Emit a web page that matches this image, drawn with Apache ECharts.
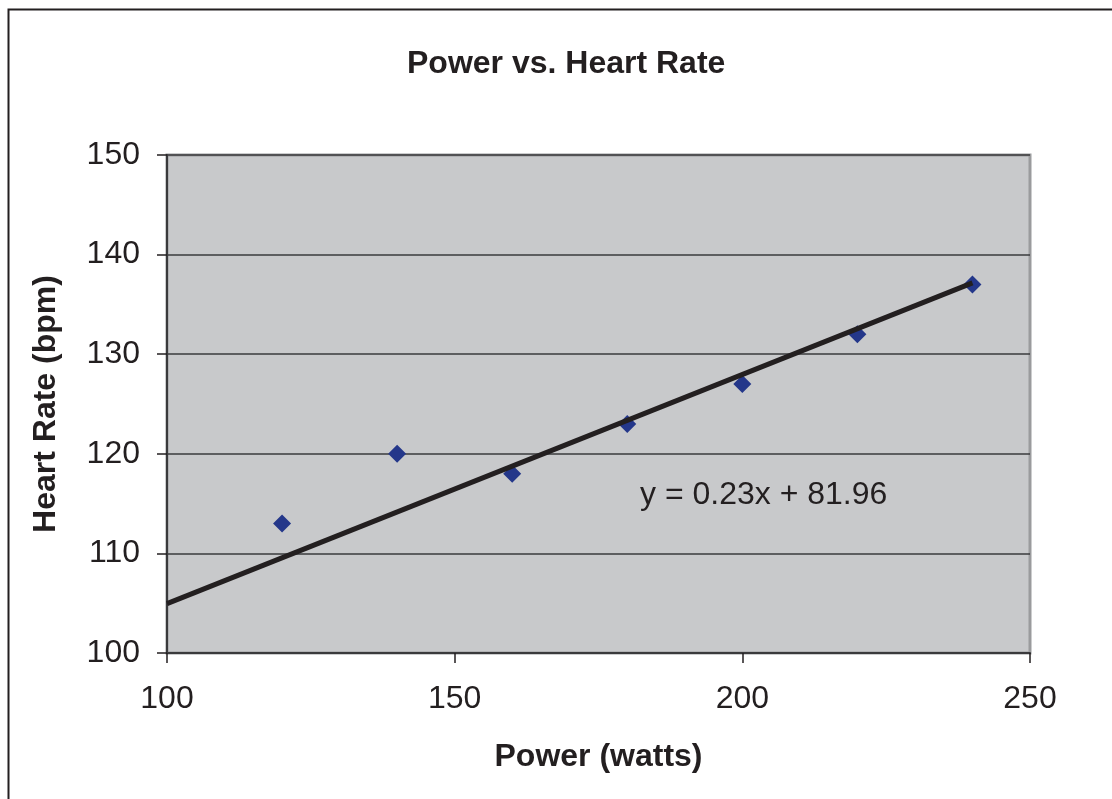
<!DOCTYPE html>
<html><head><meta charset="utf-8">
<script src="https://cdn.jsdelivr.net/npm/echarts@6/dist/echarts.min.js"></script>
<style>html,body{margin:0;padding:0;background:#fff}#c{width:1112px;height:799px}</style>
</head><body><div id="c"></div>
<script>
var powerWatts = [120, 140, 160, 180, 200, 220, 240];
var heartRate = [113, 120, 118, 123, 127, 132, 137];
var trendSlope = 0.23;
var trendIntercept = 81.96;
var trendRange = [100, 240];
var xTicks = [100, 150, 200, 250];
var yTicks = [100, 110, 120, 130, 140, 150];

var points = powerWatts.map(function(x, i){ return [x, heartRate[i]]; });
var trend = trendRange.map(function(x){ return [x, trendSlope * x + trendIntercept]; });
var F = 'Liberation Sans, Arial, sans-serif';

var chart = echarts.init(document.getElementById('c'));
chart.setOption({
  animation: false,
  title: { text: 'Power vs. Heart Rate', left: 407, top: 48, padding: 0,
    textStyle: { fontFamily: F, fontSize: 32, fontWeight: 'bold', color: '#231f20' } },
  graphic: [
    { type: 'rect', left: 6, top: 7, shape: { width: 1200, height: 900 }, z: -10,
      style: { fill: 'none', stroke: '#231f20', lineWidth: 2 } },
    { type: 'text', left: 640, top: 479, z: 100,
      style: { text: 'y = ' + trendSlope.toFixed(2) + 'x + ' + trendIntercept.toFixed(2), font: '32px ' + F, fill: '#231f20' } }
  ],
  grid: { left: 167, right: 82, top: 155, bottom: 146, show: true, backgroundColor: '#c8c9cb',
    borderColor: '#9a9b9d', borderWidth: 3 },
  xAxis: { type: 'value', min: 100, max: 250, interval: 50,
    name: 'Power (watts)', nameLocation: 'middle', nameGap: 88,
    nameTextStyle: { fontFamily: F, fontSize: 32, fontWeight: 'bold', color: '#231f20' },
    axisLine: { onZero: false, lineStyle: { color: '#3a3a3c', width: 2 } },
    axisTick: { show: true, length: 10, lineStyle: { color: '#231f20', width: 1.5 } },
    axisLabel: { margin: 30, fontFamily: F, fontSize: 32, color: '#231f20' },
    splitLine: { show: false } },
  yAxis: { type: 'value', min: 100, max: 150, interval: 10,
    name: 'Heart Rate (bpm)', nameLocation: 'middle', nameGap: 105, nameRotate: 90,
    nameTextStyle: { fontFamily: F, fontSize: 32, fontWeight: 'bold', color: '#231f20' },
    axisLine: { show: true, onZero: false, lineStyle: { color: '#3a3a3c', width: 2 } },
    axisTick: { show: true, length: 10, lineStyle: { color: '#231f20', width: 1.5 } },
    axisLabel: { margin: 27, fontFamily: F, fontSize: 32, color: '#231f20' },
    splitLine: { show: true, lineStyle: { color: '#3a3a3c', width: 1.5 } } },
  series: [
    { type: 'scatter', data: points, symbol: 'diamond', symbolSize: 18, z: 3,
      itemStyle: { color: '#24378a', opacity: 1 } },
    { type: 'line', data: trend, symbol: 'none', z: 4,
      lineStyle: { color: '#231f20', width: 5 } }
  ]
});
</script></body></html>
